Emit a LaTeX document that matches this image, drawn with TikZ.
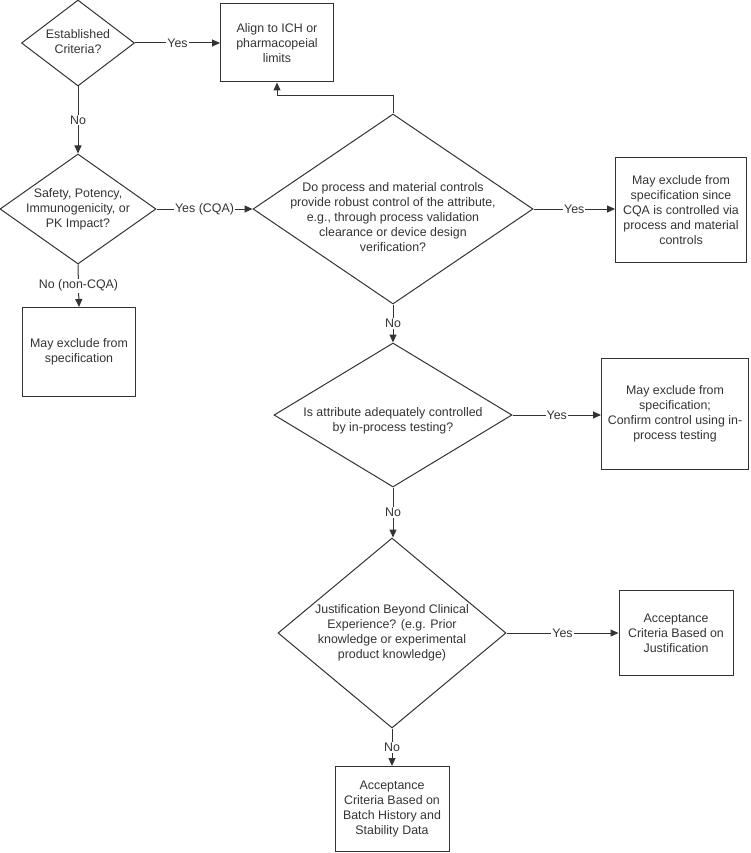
\documentclass[tikz,border=0pt]{standalone}
\usepackage{fontspec}
\setmainfont{Liberation Sans}
\usetikzlibrary{shapes.geometric,arrows.meta}
\begin{document}
\begin{tikzpicture}[x=1pt,y=-1pt,
  every node/.style={font=\fontsize{12.4}{15}\selectfont, text=black!80},
  box/.style={draw=black!80, line width=1pt, rectangle, align=center, inner sep=0pt},
  dia/.style={draw=black!80, line width=1pt, diamond, inner sep=0pt},
  txt/.style={align=center, inner sep=0pt},
  lab/.style={fill=white, inner sep=1pt},
  arr/.style={draw=black!80, line width=1pt, -{Triangle[length=8pt,width=7pt]}},
]
\useasboundingbox (0,0) rectangle (750,853);

% decisions
\node[dia, minimum width=113pt, minimum height=86pt] (d1) at (78,43) {};
\node[txt] (d1t) at (78,42) {Established\\Criteria?};
\node[dia, minimum width=156pt, minimum height=110pt] (d2) at (78,209) {};
\node[txt] (d2t) at (78,209) {Safety, Potency,\\Immunogenicity, or\\PK Impact?};
\node[dia, minimum width=280pt, minimum height=190pt] (d3) at (393,209) {};
\node[txt] (d3t) at (393,217) {Do process and material controls\\provide robust control of the attribute,\\e.g., through process validation\\clearance or device design\\verification?};
\node[dia, minimum width=238pt, minimum height=144pt] (d4) at (393,415) {};
\node[txt] (d4t) at (393,421) {Is attribute adequately controlled\\by in-process testing?};
\node[dia, minimum width=228pt, minimum height=190pt] (d5) at (392,633) {};
\node[txt] (d5t) at (392,633) {Justification Beyond Clinical\\Experience? (e.g. Prior\\knowledge or experimental\\product knowledge)};

% boxes
\node[box, minimum width=113pt, minimum height=78pt] (b1) at (277,43) {Align to ICH or\\pharmacopeial\\limits};
\node[box, minimum width=113pt, minimum height=89pt] (b2) at (79,352) {May exclude from\\specification};
\node[box, minimum width=131pt, minimum height=105pt] (b3) at (681,210) {May exclude from\\specification since\\CQA is controlled via\\process and material\\controls};
\node[box, minimum width=147pt, minimum height=111pt] (b4) at (675,414) {May exclude from\\specification;\\Confirm control using in-\\process testing};
\node[box, minimum width=114pt, minimum height=85pt] (b5) at (676,633) {Acceptance\\Criteria Based on\\Justification};
\node[box, minimum width=114pt, minimum height=85pt] (b6) at (392,809) {Acceptance\\Criteria Based on\\Batch History and\\Stability Data};

% connectors
\draw[arr] (d1.east) -- (d1.east -| b1.west) node[lab, midway] (l1) {Yes};
\draw[arr] (d1.south) -- (d2.north) node[lab, midway] (l2) {No};
\draw[arr] (d2.east) -- (d2.east -| d3.west) node[lab, midway] (l3) {Yes (CQA)};
\draw[arr] (d2.south) -- (b2.north) node[lab, midway] (l4) {No (non-CQA)};
\draw[arr] (d3.north) -- ++(0,-18) -| (b1.south);
\draw[arr] (d3.east) -- (d3.east -| b3.west) node[lab, midway] (l5) {Yes};
\draw[arr] (d3.south) -- (d4.north) node[lab, midway] (l6) {No};
\draw[arr] (d4.east) -- (d4.east -| b4.west) node[lab, midway] (l7) {Yes};
\draw[arr] (d4.south) -- (d4.south |- d5.north) node[lab, midway] (l8) {No};
\draw[arr] (d5.east) -- (d5.east -| b5.west) node[lab, midway] (l9) {Yes};
\draw[arr] (d5.south) -- (b6.north) node[lab, midway] (l10) {No};
\end{tikzpicture}
\end{document}
